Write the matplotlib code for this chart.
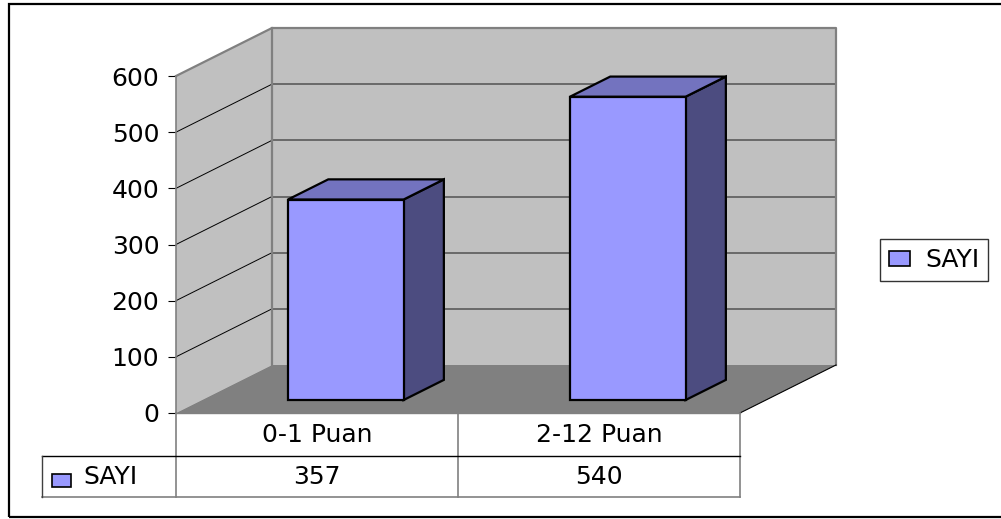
import matplotlib
matplotlib.use('Agg')
import matplotlib.pyplot as plt
from matplotlib.patches import Polygon, Rectangle

# data
categories = ['0-1 Puan', '2-12 Puan']
series_name = 'SAYI'
values = [357, 540]
yticks = [0, 100, 200, 300, 400, 500, 600]

plt.rcParams['font.family'] = ['DejaVu Sans']
FS = 18

W, H = 1001, 519
fig = plt.figure(figsize=(W / 100, H / 100), dpi=100)


def px_box(l, t, r, b):
    # left, top, right, bottom in pixels -> figure fraction box
    return [l / W, 1 - b / H, (r - l) / W, (b - t) / H]


# main plot area = front plane of the 3d box
ax = fig.add_axes(px_box(176, 76, 740, 413))
n = len(categories)
ymax = yticks[-1]
ax.set_xlim(0, n)
ax.set_ylim(0, ymax)
ax.patch.set_visible(False)

# depth of the 3d box in data units
dx = 96 * n / 564
dy = 48 * ymax / 337

wall = '#c0c0c0'
edge = '#808080'
ax.add_patch(Polygon([(0, 0), (0, ymax), (dx, ymax + dy), (dx, dy)],
                     fc=wall, ec='none', clip_on=False, zorder=1))
ax.add_patch(Polygon([(dx, dy), (dx, ymax + dy), (n + dx, ymax + dy), (n + dx, dy)],
                     fc=wall, ec='none', clip_on=False, zorder=1))
ax.add_patch(Polygon([(0, 0), (dx, dy), (n + dx, dy), (n, 0)],
                     fc='#808080', ec='none', clip_on=False, zorder=1))

for v in yticks[1:-1]:
    ax.plot([0, dx], [v, v + dy], color='black', lw=0.7, clip_on=False, zorder=2)
    ax.plot([dx, n + dx], [v + dy, v + dy], color='#5a5a5a', lw=1.2, clip_on=False, zorder=2)

ax.plot([0, dx, n + dx, n + dx], [ymax, ymax + dy, ymax + dy, dy],
        color=edge, lw=1.6, clip_on=False, zorder=2)
ax.plot([dx, dx], [dy, ymax + dy], color=edge, lw=1.6, clip_on=False, zorder=2)
ax.plot([n, n + dx], [0, dy], color='black', lw=0.8, clip_on=False, zorder=2)

# bars
f0, f1 = 0.27, 0.69
bw = 0.41
for i, v in enumerate(values):
    x0 = i + 0.51 - bw / 2
    x1 = x0 + bw
    a, b = f0 * dx, f0 * dy
    c, d = f1 * dx, f1 * dy
    front = [(x0 + a, b), (x1 + a, b), (x1 + a, v + b), (x0 + a, v + b)]
    top = [(x0 + a, v + b), (x1 + a, v + b), (x1 + c, v + d), (x0 + c, v + d)]
    side = [(x1 + a, b), (x1 + c, d), (x1 + c, v + d), (x1 + a, v + b)]
    for pts, col in [(side, '#4c4c80'), (top, '#7373bf'), (front, '#9999ff')]:
        ax.add_patch(Polygon(pts, fc=col, ec='black', lw=1.6, joinstyle='miter',
                             clip_on=False, zorder=3 + i))

ax.set_yticks(yticks)
ax.set_xticks([])
for s in ['top', 'right', 'bottom']:
    ax.spines[s].set_visible(False)
ax.spines['left'].set_color(edge)
ax.spines['left'].set_linewidth(1.2)
ax.tick_params(axis='y', length=6, width=0.8, color='black', pad=6, labelsize=FS)

# data table under the chart
tax = fig.add_axes(px_box(42, 413, 740, 497))
xmin = -(176 - 42) * n / 564
tax.set_xlim(xmin, n)
tax.set_ylim(0, 1)
tax.axis('off')
split = (497 - 456) / 84

for i in range(n + 1):
    tax.plot([i, i], [0, 1], color=edge, lw=1.2, clip_on=False)
tax.plot([0, n], [1, 1], color=edge, lw=1.0, clip_on=False)
tax.plot([xmin, n], [split, split], color='black', lw=1.0, clip_on=False)
tax.plot([xmin, n], [0, 0], color=edge, lw=1.2, clip_on=False)
tax.plot([xmin, xmin], [0, split], color='#404040', lw=1.0, clip_on=False)

for i, (cat, v) in enumerate(zip(categories, values)):
    tax.text(i + 0.5, (1 + split) / 2, cat, ha='center', va='center', fontsize=FS)
    tax.text(i + 0.5, split / 2, str(v), ha='center', va='center', fontsize=FS)

tax.add_patch(Rectangle((xmin + 0.035, 0.12), 0.067, 0.155, fc='#9999ff', ec='black',
                        lw=1.2, clip_on=False))
tax.text(xmin + 0.145, split / 2, series_name, ha='left', va='center', fontsize=FS)

# legend on the right
handle = Rectangle((0, 0), 1, 1, fc='#9999ff', ec='black', lw=1.2)
leg = fig.legend([handle], [series_name], loc='center', bbox_to_anchor=(934 / W, 1 - 260 / H),
                 frameon=True, fancybox=False, edgecolor='black', fontsize=FS,
                 handlelength=0.85, handleheight=0.55, borderpad=0.35, handletextpad=0.6,
                 borderaxespad=0)
leg.get_frame().set_linewidth(1.0)

# outer chart border
fig.add_artist(Rectangle((9 / W, 2 / H), 1.1, (517 - 4) / H, fill=False, ec='black',
                         lw=1.6, transform=fig.transFigure))

fig.savefig('out.png', dpi=100)
